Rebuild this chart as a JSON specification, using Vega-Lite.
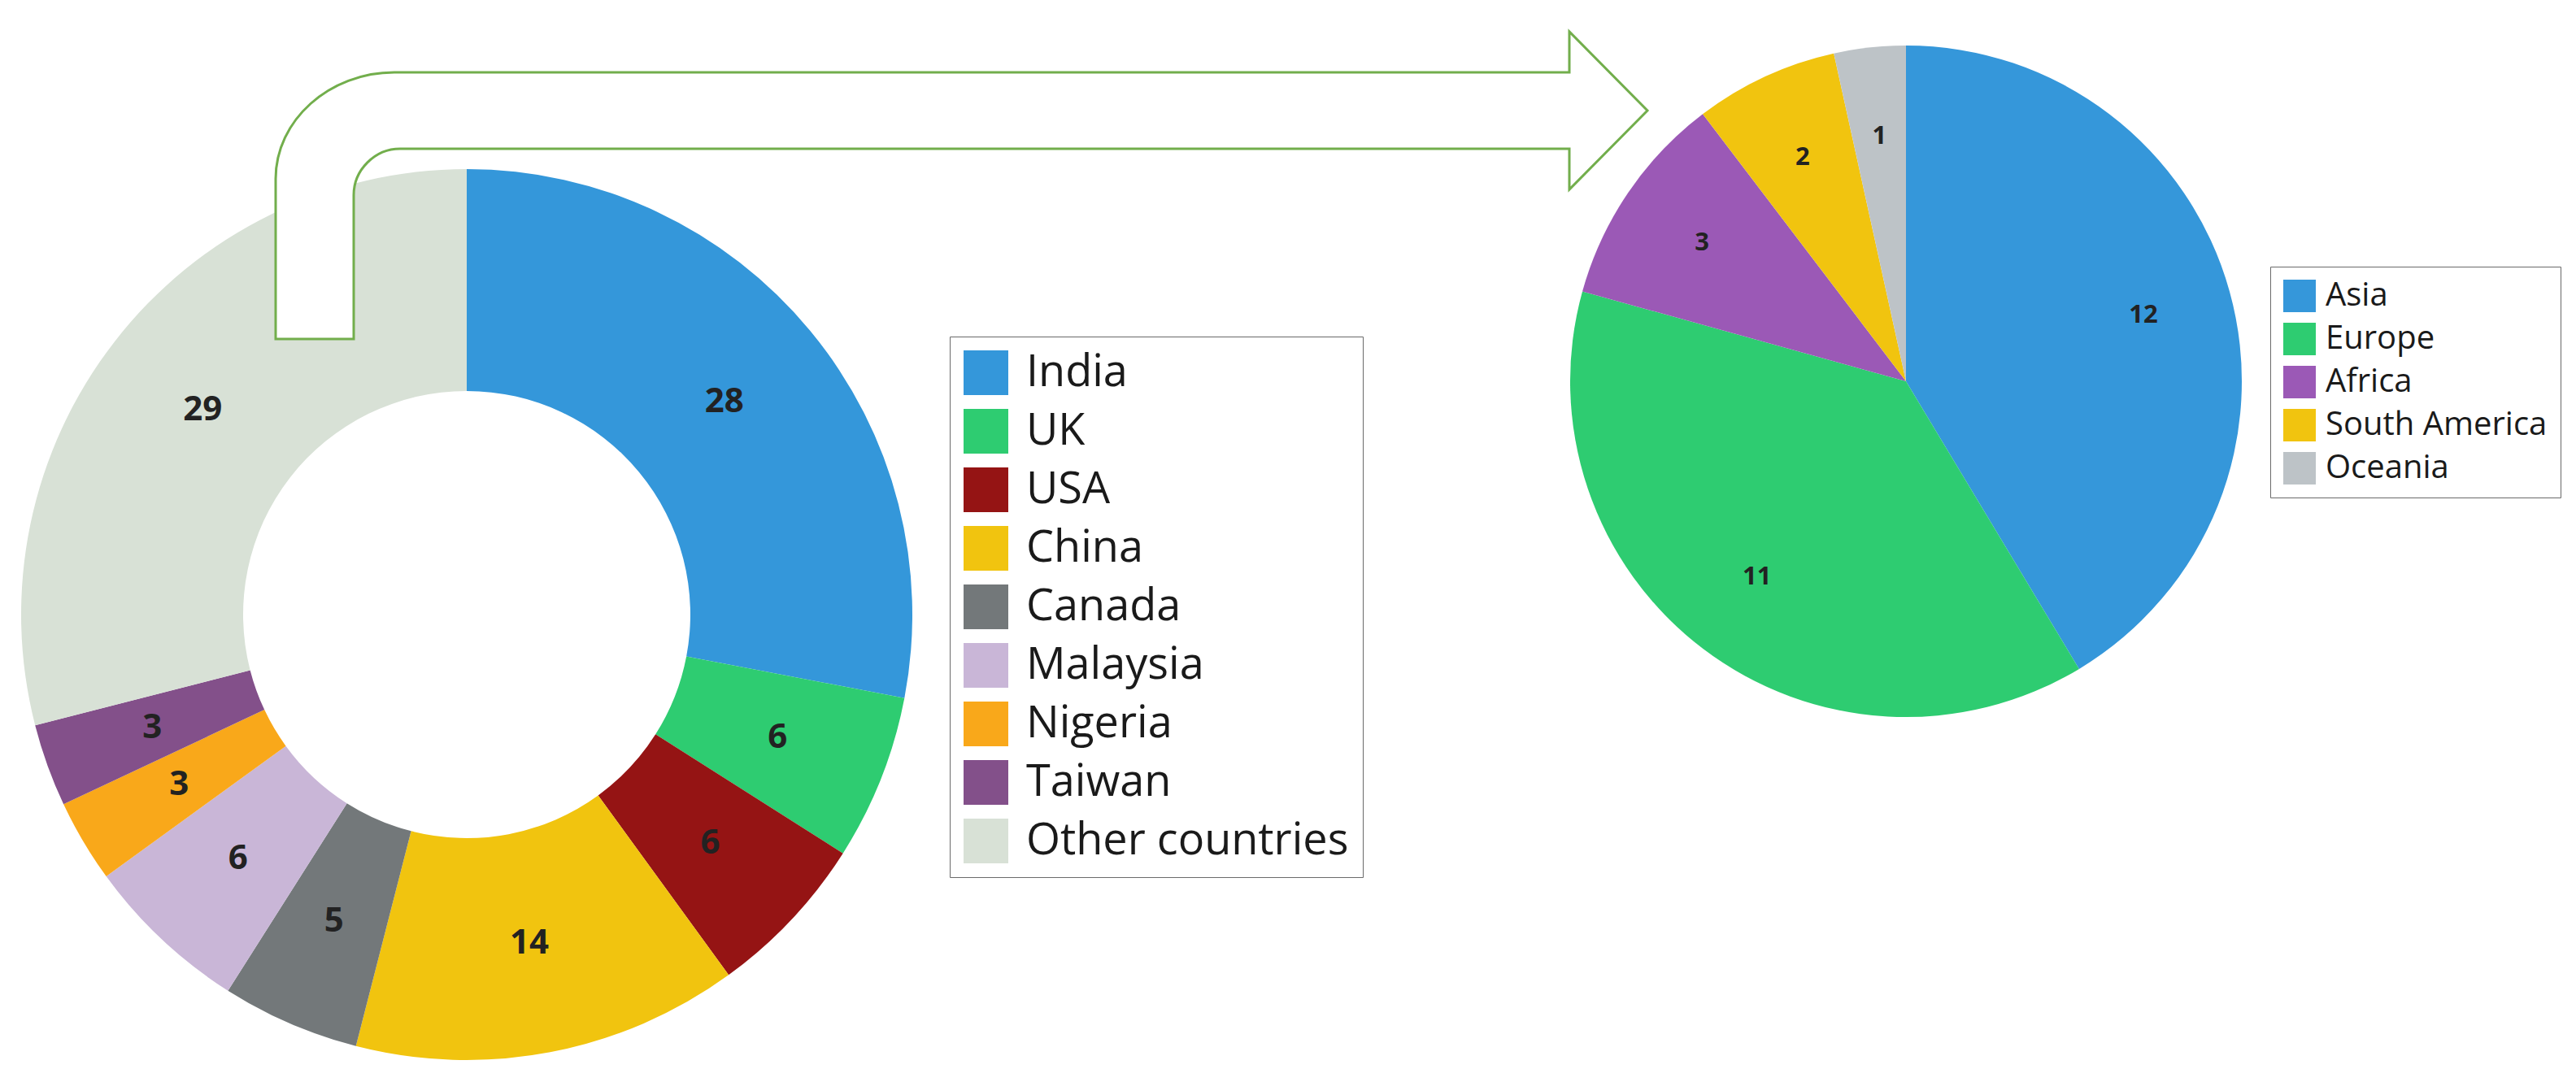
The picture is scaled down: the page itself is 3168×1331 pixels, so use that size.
{
  "$schema": "https://vega.github.io/schema/vega-lite/v6.json",
  "padding": 0,
  "background": "white",
  "config": {"view": {"stroke": null}, "font": "Open Sans"},
  "datasets": {
    "countries": [
      {"country": "India", "count": 28, "rank": 1},
      {"country": "UK", "count": 6, "rank": 2},
      {"country": "USA", "count": 6, "rank": 3},
      {"country": "China", "count": 14, "rank": 4},
      {"country": "Canada", "count": 5, "rank": 5},
      {"country": "Malaysia", "count": 6, "rank": 6},
      {"country": "Nigeria", "count": 3, "rank": 7},
      {"country": "Taiwan", "count": 3, "rank": 8},
      {"country": "Other countries", "count": 29, "rank": 9}
    ],
    "continents": [
      {"continent": "Asia", "count": 12, "rank": 1},
      {"continent": "Europe", "count": 11, "rank": 2},
      {"continent": "Africa", "count": 3, "rank": 3},
      {"continent": "South America", "count": 2, "rank": 4},
      {"continent": "Oceania", "count": 1, "rank": 5}
    ]
  },
  "bounds": "flush",
  "spacing": 0,
  "resolve": {"scale": {"color": "independent", "theta": "independent"}, "legend": {"color": "independent"}},
  "vconcat": [
    {
      "width": 1148,
      "height": 206,
      "data": {"values": [{"blank": ""}]},
      "mark": {"type": "text"},
      "encoding": {"text": {"field": "blank"}}
    },
    {
      "bounds": "flush",
      "spacing": 727,
      "resolve": {"scale": {"color": "independent", "theta": "independent"}, "legend": {"color": "independent"}},
      "hconcat": [
        {
          "width": 1148,
          "height": 1100,
          "layer": [
            {
              "data": {"name": "countries"},
              "mark": {"type": "arc", "outerRadius": 548, "innerRadius": 275},
              "encoding": {
                "theta": {"field": "count", "type": "quantitative", "stack": true},
                "order": {"field": "rank", "type": "quantitative"},
                "color": {
                  "field": "country",
                  "type": "nominal",
                  "scale": {
                    "domain": ["India", "UK", "USA", "China", "Canada", "Malaysia", "Nigeria", "Taiwan", "Other countries"],
                    "range": ["#3497DA", "#2ECC71", "#951414", "#F1C40F", "#73787A", "#C9B6D7", "#F9A81A", "#83508A", "#D8E1D6"]
                  },
                  "legend": {
                    "orient": "none",
                    "legendX": 1168,
                    "legendY": 208,
                    "title": null,
                    "symbolType": "square",
                    "symbolSize": 3025,
                    "symbolStrokeWidth": 0,
                    "labelFontSize": 54,
                    "labelFont": "Open Sans",
                    "labelColor": "#1a1a1a",
                    "labelOffset": 22,
                    "labelLimit": 0,
                    "rowPadding": 17,
                    "padding": 17,
                    "strokeColor": "#6a6a6a",
                    "fillColor": "white"
                  }
                }
              }
            },
            {
              "data": {"name": "countries"},
              "mark": {"type": "text", "radius": 411, "fontSize": 42, "fontWeight": "bold", "font": "Open Sans", "color": "#222222"},
              "encoding": {
                "theta": {"field": "count", "type": "quantitative", "stack": true},
                "order": {"field": "rank", "type": "quantitative"},
                "text": {"field": "count", "type": "quantitative"}
              }
            },
            {
              "data": {"values": [{"item": "arrow"}]},
              "mark": {
                "type": "point",
                "shape": "M -235 -339 L -235 -536 C -235 -608 -169 -667 -89 -667 L 1356 -667 L 1356 -717 L 1452 -620 L 1356 -523 L 1356 -573 L -82 -573 C -113 -573 -139 -547 -139 -516 L -139 -339 Z",
                "size": 4,
                "filled": true,
                "fill": "white",
                "stroke": "#72AE4C",
                "strokeWidth": 3,
                "opacity": 1
              },
              "encoding": {}
            }
          ]
        },
        {
          "width": 938,
          "height": 526,
          "layer": [
            {
              "data": {"name": "continents"},
              "mark": {"type": "arc", "outerRadius": 413},
              "encoding": {
                "theta": {"field": "count", "type": "quantitative", "stack": true},
                "order": {"field": "rank", "type": "quantitative"},
                "color": {
                  "field": "continent",
                  "type": "nominal",
                  "scale": {
                    "domain": ["Asia", "Europe", "Africa", "South America", "Oceania"],
                    "range": ["#3597DA", "#2ECC71", "#9B59B6", "#F1C40F", "#BDC3C7"]
                  },
                  "legend": {
                    "orient": "none",
                    "legendX": 917,
                    "legendY": 122,
                    "title": null,
                    "symbolType": "square",
                    "symbolSize": 1600,
                    "symbolStrokeWidth": 0,
                    "labelFontSize": 40,
                    "labelFont": "Open Sans",
                    "labelColor": "#1a1a1a",
                    "labelOffset": 12,
                    "labelLimit": 0,
                    "rowPadding": 13,
                    "padding": 16,
                    "strokeColor": "#6a6a6a",
                    "fillColor": "white"
                  }
                }
              }
            },
            {
              "data": {"name": "continents"},
              "mark": {"type": "text", "radius": 303, "fontSize": 31, "fontWeight": "bold", "font": "Open Sans", "color": "#222222"},
              "encoding": {
                "theta": {"field": "count", "type": "quantitative", "stack": true},
                "order": {"field": "rank", "type": "quantitative"},
                "text": {"field": "count", "type": "quantitative"}
              }
            }
          ]
        }
      ]
    }
  ]
}
